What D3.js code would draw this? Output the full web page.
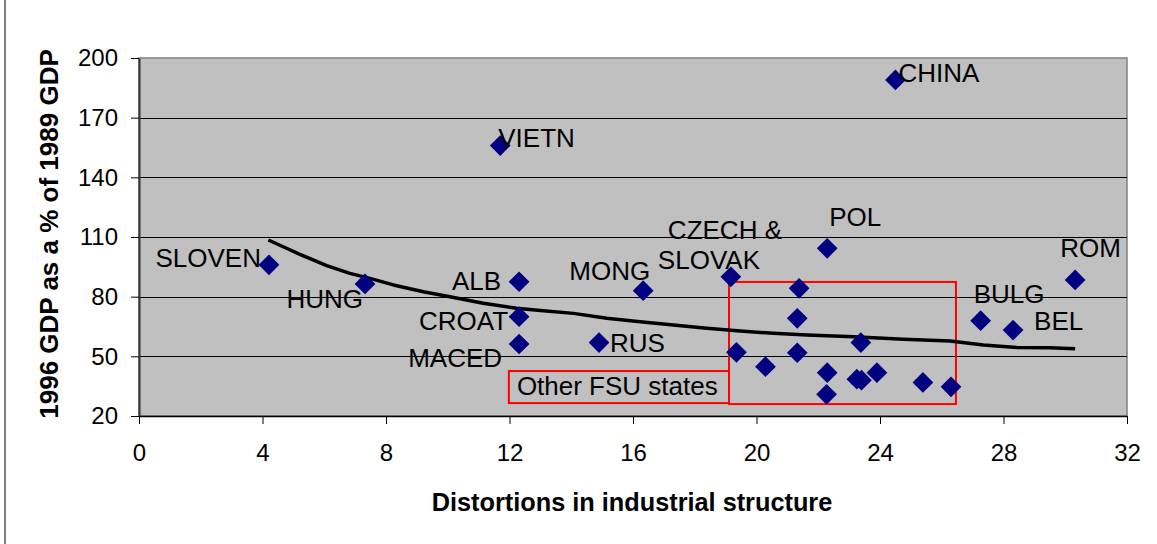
<!DOCTYPE html>
<html>
<head>
<meta charset="utf-8">
<script src="https://cdn.jsdelivr.net/npm/d3@7"></script>
<style>
  body { margin: 0; background: #fff; }
  text { font-family: "Liberation Sans", Arial, sans-serif; fill: #000; }
</style>
</head>
<body>
<script>
// data
const countries = ["SLOVEN", "HUNG", "VIETN", "CHINA", "ALB", "CROAT", "MACED", "MONG", "RUS",
  "CZECH & SLOVAK", "POL", "ROM", "BULG", "BEL"];
const countryX = [4.21, 7.32, 11.7, 24.5, 12.31, 12.31, 12.31, 16.33, 14.9, 19.17, 22.29, 30.32, 27.26, 28.31];
const countryY = [96, 86.4, 156, 189, 87.5, 69.9, 56.2, 83.0, 56.9, 90.0, 104.3, 88.4, 67.9, 63.2];

// other FSU states (unlabelled, inside the red box)
const fsuX = [19.35, 20.29, 21.38, 21.32, 21.32, 22.29, 22.27, 23.38, 23.25, 23.4, 23.9, 25.39, 26.3];
const fsuY = [52.0, 44.8, 84.2, 69.1, 51.8, 41.8, 30.9, 56.9, 38.5, 38.0, 41.8, 36.9, 34.7];

// fitted trend line
const trendX = [4.19, 4.67, 5.21, 6.08, 6.83, 7.48, 8.24, 9.21, 10.07, 11.15, 12.23, 13.0, 14.07, 15.15,
  16.23, 17.31, 18.39, 19.47, 20.54, 21.63, 23.14, 24.76, 26.27, 27.35, 28.43, 29.5, 30.32];
const trendY = [108.5, 105.1, 101.3, 95.6, 91.7, 89.2, 85.9, 82.5, 80.0, 76.7, 74.2, 73.0, 71.6, 69.1,
  67.4, 65.8, 64.1, 62.7, 61.6, 60.7, 59.9, 58.6, 57.7, 55.7, 54.5, 54.3, 53.8];

const xTicks = [0, 4, 8, 12, 16, 20, 24, 28, 32];
const yTicks = [20, 50, 80, 110, 140, 170, 200];

// red annotation boxes, in data units [x0, x1, y0, y1]
const fsuBox = [19.11, 26.46, 26.0, 87.4];
const fsuLabelBox = [11.98, 19.11, 26.5, 42.6];
const fsuLabel = "Other FSU states";

// set the dimensions and margins of the graph
const margin = {top: 58, right: 30, bottom: 128, left: 139},
width = 1157 - margin.left - margin.right,
height = 544 - margin.top - margin.bottom;

const svgRoot = d3.select("body")
  .append("svg")
  .attr("width", 1157)
  .attr("height", 544);

// chart border (only the left edge shows)
svgRoot.append("line")
  .attr("x1", 5).attr("x2", 5)
  .attr("y1", 0).attr("y2", 544)
  .attr("stroke", "#555")
  .attr("stroke-width", 1.5);

const svg = svgRoot.append("g")
  .attr("transform", `translate(${margin.left}, ${margin.top})`);

const x = d3.scaleLinear().domain([0, 32]).range([0, width]);
const y = d3.scaleLinear().domain([20, 200]).range([height, 0]);

// plot area
svg.append("rect")
  .attr("width", width)
  .attr("height", height)
  .attr("fill", "#c0c0c0")
  .attr("stroke", "#808080")
  .attr("stroke-width", 1.5);

// gridlines
svg.append("g")
  .selectAll("line")
  .data(yTicks.filter(d => d > 20 && d < 200))
  .join("line")
    .attr("x1", 0).attr("x2", width)
    .attr("y1", d => Math.round(y(d)) + 0.5)
    .attr("y2", d => Math.round(y(d)) + 0.5)
    .attr("stroke", "#000")
    .attr("stroke-width", 1);

// X axis
const xAxis = svg.append("g")
  .attr("transform", `translate(0, ${height})`)
  .call(d3.axisBottom(x).tickValues(xTicks).tickSize(8).tickSizeOuter(0).tickPadding(20));
xAxis.select(".domain").attr("stroke", "#000").attr("stroke-width", 1.5);
xAxis.selectAll(".tick line").attr("stroke", "#000");
xAxis.selectAll("text").style("font-size", "24px").attr("fill", "#000");

// Y axis
const yAxis = svg.append("g")
  .call(d3.axisLeft(y).tickValues(yTicks).tickSize(8).tickSizeOuter(0).tickPadding(13));
yAxis.select(".domain").attr("stroke", "#333").attr("stroke-width", 2);
yAxis.selectAll(".tick line").attr("stroke", "#000");
yAxis.selectAll("text").style("font-size", "24px").attr("fill", "#000");

// axis titles
svgRoot.append("text")
  .attr("x", 632)
  .attr("y", 511)
  .attr("text-anchor", "middle")
  .style("font-size", "25.3px")
  .style("font-weight", "bold")
  .text("Distortions in industrial structure");

svgRoot.append("text")
  .attr("transform", "translate(58, 234) rotate(-90)")
  .attr("text-anchor", "middle")
  .style("font-size", "26px")
  .style("font-weight", "bold")
  .text("1996 GDP as a % of 1989 GDP");

// red boxes
function boxRect(b) {
  return svg.append("rect")
    .attr("x", x(b[0]))
    .attr("y", y(b[3]))
    .attr("width", x(b[1]) - x(b[0]))
    .attr("height", y(b[2]) - y(b[3]))
    .attr("fill", "none")
    .attr("stroke", "#ff0000")
    .attr("stroke-width", 2);
}
boxRect(fsuBox);
boxRect(fsuLabelBox);
svg.append("text")
  .attr("x", x(fsuLabelBox[0]) + 8)
  .attr("y", y(fsuLabelBox[2]) - 8)
  .style("font-size", "26px")
  .text(fsuLabel);

// trend line
svg.append("path")
  .datum(trendX.map((d, i) => [d, trendY[i]]))
  .attr("d", d3.line().x(d => x(d[0])).y(d => y(d[1])))
  .attr("fill", "none")
  .attr("stroke", "#000")
  .attr("stroke-width", 3.5)
  .attr("stroke-linejoin", "round");

// points
const diamond = d3.symbol(d3.symbolSquare, 215);
const allPoints = countryX.map((d, i) => [d, countryY[i]])
  .concat(fsuX.map((d, i) => [d, fsuY[i]]));
svg.append("g")
  .selectAll("path")
  .data(allPoints)
  .join("path")
    .attr("d", diamond)
    .attr("transform", d => `translate(${x(d[0])}, ${y(d[1])}) rotate(45)`)
    .attr("fill", "#000080");

// label placement relative to each point: [dx, dy, anchor]
const labelPos = {
  "SLOVEN": [-8, 2, "end"],
  "HUNG": [-2, 24, "end"],
  "VIETN": [-2, 1, "start"],
  "CHINA": [3, 2, "start"],
  "ALB": [-18, 8, "end"],
  "CROAT": [-11, 13, "end"],
  "MACED": [-17, 23, "end"],
  "MONG": [7, -11, "end"],
  "RUS": [11, 9, "start"],
  "POL": [2, -22, "start"],
  "ROM": [-15, -23, "start"],
  "BULG": [-7, -18, "start"],
  "BEL": [21, 0, "start"]
};

const labels = svg.append("g").style("font-size", "26px");
countries.forEach(function(name, i) {
  const px = x(countryX[i]), py = y(countryY[i]);
  if (name === "CZECH & SLOVAK") {
    labels.append("text").attr("x", px - 63).attr("y", py - 38).text("CZECH &");
    labels.append("text").attr("x", px - 73).attr("y", py - 8).text("SLOVAK");
    return;
  }
  const p = labelPos[name];
  labels.append("text")
    .attr("x", px + p[0])
    .attr("y", py + p[1])
    .attr("text-anchor", p[2])
    .text(name);
});
</script>
</body>
</html>
